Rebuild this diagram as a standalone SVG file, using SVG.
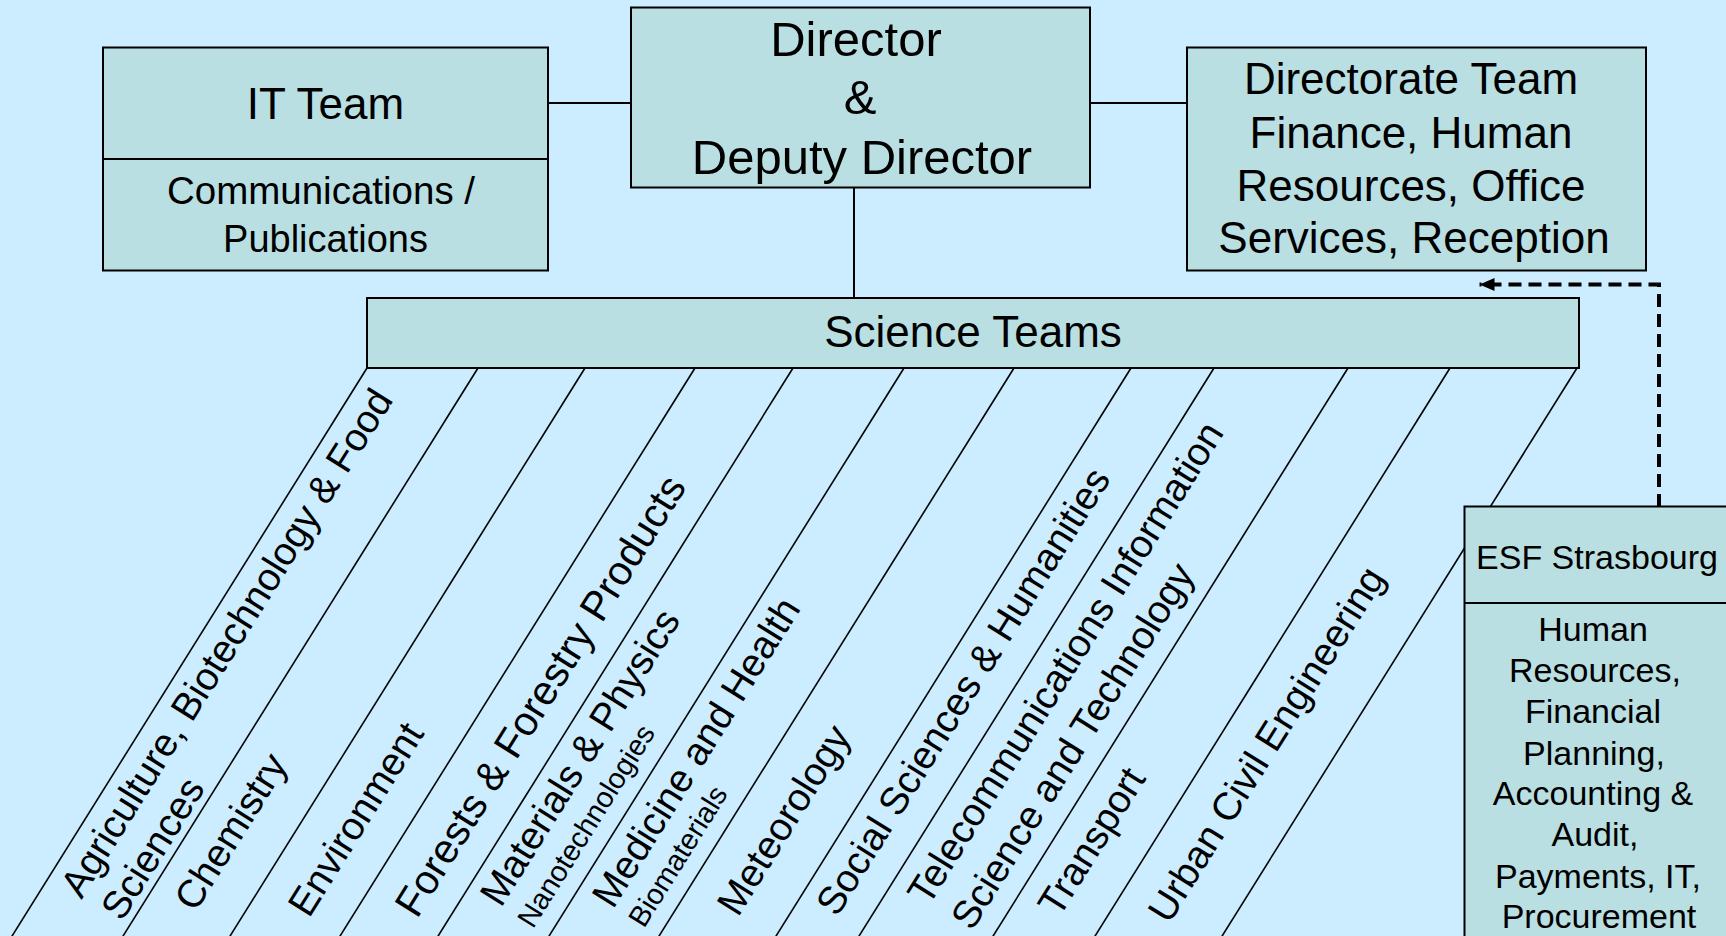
<svg xmlns="http://www.w3.org/2000/svg" width="1726" height="936" viewBox="0 0 1726 936">
<defs>
<style>
.bg{fill:#CCECFF}
.box{fill:#B9DFE2;stroke:#000;stroke-width:2}
.ln{stroke:#000;stroke-width:2;fill:none}
.dg{stroke:#000;stroke-width:1.6;fill:none}
.t{font-family:"Liberation Sans",Arial,sans-serif;fill:#000}
.c{text-anchor:middle}
.d{font-family:"Liberation Sans",Arial,sans-serif;fill:#000;font-size:39px}
.s{font-size:29px}
.f{font-size:41px}
</style>
<marker id="ah" markerWidth="15" markerHeight="14" refX="15" refY="7" orient="auto" markerUnits="userSpaceOnUse" viewBox="0 0 15 14">
<path d="M0,0.5 L15,7 L0,13.5 Z" fill="#000"/>
</marker>
</defs>
<rect class="bg" x="0" y="0" width="1726" height="936"/>

<g id="connectors">
<line class="ln" x1="548" y1="103" x2="631" y2="103"/>
<line class="ln" x1="1090" y1="103" x2="1187" y2="103"/>
<line class="ln" x1="854" y1="188" x2="854" y2="298"/>
<g id="diagonals">
<line class="dg" x1="367" y1="368" x2="9.6" y2="940"/>
<line class="dg" x1="478" y1="368" x2="120.6" y2="940"/>
<line class="dg" x1="585" y1="368" x2="227.6" y2="940"/>
<line class="dg" x1="695" y1="368" x2="337.6" y2="940"/>
<line class="dg" x1="793" y1="368" x2="435.6" y2="940"/>
<line class="dg" x1="904" y1="368" x2="546.6" y2="940"/>
<line class="dg" x1="1014" y1="368" x2="656.6" y2="940"/>
<line class="dg" x1="1131" y1="368" x2="773.6" y2="940"/>
<line class="dg" x1="1214" y1="368" x2="856.6" y2="940"/>
<line class="dg" x1="1348" y1="368" x2="990.6" y2="940"/>
<line class="dg" x1="1450" y1="368" x2="1092.6" y2="940"/>
<line class="dg" x1="1577" y1="368" x2="1219.6" y2="940"/>
</g>
<path d="M1659,507 V284.5 H1479.5" fill="none" stroke="#000" stroke-width="4" stroke-dasharray="13,7" marker-end="url(#ah)"/>
</g>

<g id="it-team">
<rect class="box" x="103" y="47.5" width="445" height="223"/>
<line class="ln" x1="103" y1="159" x2="548" y2="159"/>
<text class="t c" x="325.5" y="119" font-size="44">IT Team</text>
<text class="t c" x="321" y="204" font-size="38.5">Communications /</text>
<text class="t c" x="325.5" y="252" font-size="38">Publications</text>
</g>

<g id="director">
<rect class="box" x="631" y="7.5" width="459" height="180"/>
<text class="t c" x="856" y="56" font-size="49">Director</text>
<text class="t c" x="860" y="114" font-size="49">&amp;</text>
<text class="t c" x="862" y="174" font-size="49">Deputy Director</text>
</g>

<g id="directorate">
<rect class="box" x="1187" y="47.5" width="459" height="223"/>
<text class="t c" x="1411" y="94" font-size="44">Directorate Team</text>
<text class="t c" x="1411" y="148" font-size="44">Finance, Human</text>
<text class="t c" x="1411" y="201" font-size="44">Resources, Office</text>
<text class="t c" x="1414" y="253" font-size="44">Services, Reception</text>
</g>

<g id="science-teams">
<rect class="box" x="367" y="298" width="1212" height="70"/>
<text class="t c" x="973" y="347" font-size="44">Science Teams</text>
</g>

<g id="labels">
<text class="d" transform="translate(81.5,900) rotate(-58)">Agriculture, Biotechnology &amp; Food</text>
<text class="d" transform="translate(122,922.5) rotate(-58)">Sciences</text>
<text class="d" transform="translate(195.5,913) rotate(-58)">Chemistry</text>
<text class="d" transform="translate(309,919) rotate(-58)">Environment</text>
<text class="d f" transform="translate(417,919.5) rotate(-58)">Forests &amp; Forestry Products</text>
<text class="d" transform="translate(501,908.5) rotate(-58)">Materials &amp; Physics</text>
<text class="d s" transform="translate(533,929.5) rotate(-58)">Nanotechnologies</text>
<text class="d" transform="translate(613,910) rotate(-58)">Medicine and Health</text>
<text class="d s" transform="translate(644,929) rotate(-58)">Biomaterials</text>
<text class="d" transform="translate(738,918) rotate(-58)">Meteorology</text>
<text class="d" transform="translate(837,918) rotate(-58)">Social Sciences &amp; Humanities</text>
<text class="d" transform="translate(928.5,907) rotate(-58)">Telecommunications Information</text>
<text class="d" transform="translate(972,932) rotate(-58)">Science and Technology</text>
<text class="d" transform="translate(1059,918.5) rotate(-58)">Transport</text>
<text class="d" transform="translate(1169,925) rotate(-58)">Urban Civil Engineering</text>
</g>

<g id="esf-strasbourg">
<rect class="box" x="1464.5" y="506.5" width="280" height="440"/>
<line class="ln" x1="1464.5" y1="603" x2="1730" y2="603"/>
<g class="t c" font-size="34">
<text x="1597" y="569">ESF Strasbourg</text>
<text x="1593" y="640.5">Human</text>
<text x="1595" y="681.5">Resources,</text>
<text x="1593" y="723">Financial</text>
<text x="1594" y="764.5">Planning,</text>
<text x="1593" y="804.5">Accounting &amp;</text>
<text x="1595" y="845.5">Audit,</text>
<text x="1598" y="887.5">Payments, IT,</text>
<text x="1599" y="927.5">Procurement</text>
</g>
</g>
</svg>
